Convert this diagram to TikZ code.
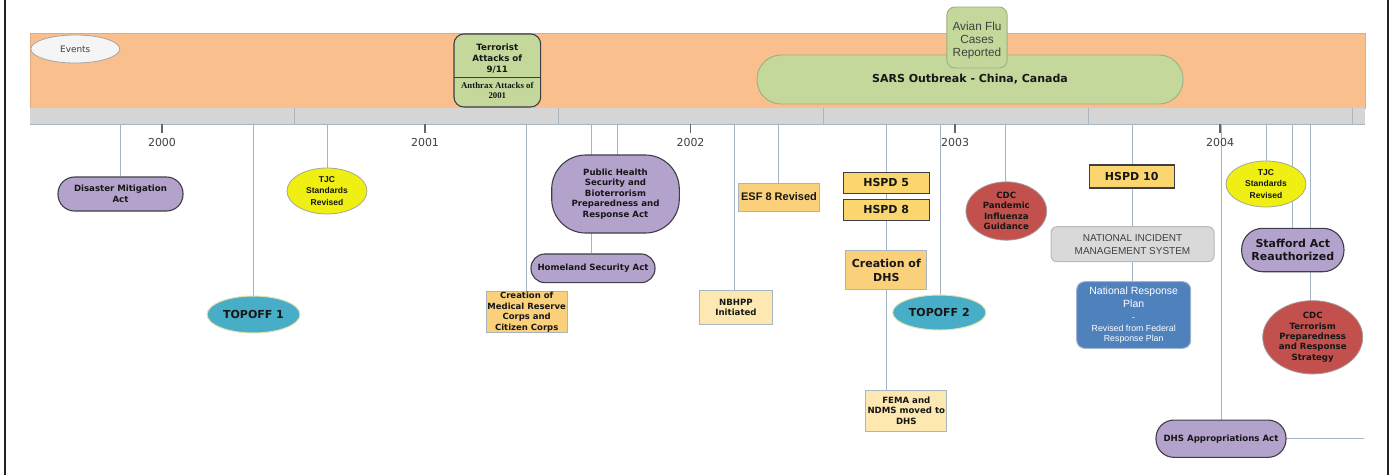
\documentclass[tikz,border=0pt]{standalone}
\usepackage{fontspec}
\setmainfont{DejaVu Sans}
\newfontfamily\arialf{Liberation Sans}
\newfontfamily\timesf{Liberation Serif}
\usetikzlibrary{shapes.geometric,backgrounds}
\newcommand{\myfs}[2]{\fontsize{#1}{#2}\selectfont}
\definecolor{bandc}{HTML}{F9C08E}
\definecolor{bandd}{HTML}{E4A97C}
\definecolor{barc}{HTML}{D5D5D5}
\definecolor{bard}{HTML}{A9B6C0}
\definecolor{connc}{HTML}{A3B5C5}
\definecolor{greenc}{HTML}{C4D89C}
\definecolor{greend}{HTML}{9DAE80}
\definecolor{lavc}{HTML}{B3A3CC}
\definecolor{lavd}{HTML}{3E3E46}
\definecolor{tealc}{HTML}{48ADC7}
\definecolor{teald}{HTML}{E6E2B0}
\definecolor{yelc}{HTML}{EFEF14}
\definecolor{yeld}{HTML}{A8A890}
\definecolor{redc}{HTML}{C2504D}
\definecolor{redd}{HTML}{A89A9A}
\definecolor{orc}{HTML}{FAD07A}
\definecolor{hspdc}{HTML}{FBD56E}
\definecolor{ltc}{HTML}{FDE8B2}
\definecolor{boxd}{HTML}{A8B6C0}
\definecolor{bluec}{HTML}{4F81BD}
\definecolor{blued}{HTML}{9DB3CF}
\definecolor{nimsc}{HTML}{D9D9D9}
\definecolor{nimsd}{HTML}{B8B8B8}
\definecolor{txt}{HTML}{161616}
\definecolor{yeartxt}{HTML}{404040}
\definecolor{framec}{HTML}{222222}
\tikzset{
  conn/.style={draw=connc, line width=0.9pt},
  lav/.style={draw=lavd, fill=lavc, line width=1.1pt, inner sep=0pt, align=center, text=txt, font=\bfseries\myfs{8.6}{10.8}},
  ellnode/.style={ellipse, inner sep=0pt, align=center, text=txt},
  teal/.style={ellnode, fill=tealc, draw=teald, line width=1pt, font=\bfseries\myfs{11}{13}},
  tjc/.style={ellnode, fill=yelc, draw=yeld, line width=0.8pt, font=\arialf\bfseries\myfs{8.5}{11.7}, minimum width=80pt, minimum height=46pt},
  cdc/.style={ellnode, fill=redc, draw=redd, line width=0.8pt, font=\bfseries\myfs{8.6}{10.4}},
  obox/.style={draw=boxd, fill=orc, line width=1pt, inner sep=0pt, align=center, text=txt},
  lbox/.style={draw=boxd, fill=ltc, line width=1pt, inner sep=0pt, align=center, text=txt, font=\bfseries\myfs{8.6}{10.6}},
  hspd/.style={draw=lavd, fill=hspdc, line width=1.1pt, inner sep=0pt, align=center, text=txt, font=\bfseries\myfs{11}{13}, minimum width=85.7pt},
  year/.style={text=yeartxt, font=\myfs{11}{13}},
  tick/.style={draw=yeartxt!80, line width=1.3pt},
  divider/.style={draw=bard, line width=0.9pt}
}
\begin{document}
\begin{tikzpicture}[x=1pt,y=-1pt]
\useasboundingbox (0,0) rectangle (1392,475);
% frame
\draw[framec, line width=2.5pt] (5,0) -- (5,475);
\draw[framec, line width=2.5pt] (1388,0) -- (1388,475);
% band and bar
\node[draw=bandd, fill=bandc, line width=0.8pt, minimum width=1335pt, minimum height=75pt, inner sep=0pt] (band) at (697.5,70.5) {};
\node[fill=barc, minimum width=1335pt, minimum height=16pt, inner sep=0pt] (bar) at (697.5,116) {};
\draw[divider] (bar.south west) -- (bar.south east);
\foreach \dx in {294,558,823,1088,1352} \draw[divider] (\dx,108) -- (\dx,124);
% years
\foreach \yx/\yr in {162/2000,425/2001,690.5/2002,955/2003,1220/2004}{
  \draw[tick] (\yx,124) -- (\yx,133);
  \node[year] (y\yr) at (\yx,142.5) {\yr};
}
% top events
\node[ellnode, fill=gray!8, draw=gray!70, line width=0.8pt, minimum width=89pt, minimum height=28pt, font=\myfs{8.9}{10}, text=yeartxt] (events) at (75.3,49) {Events};
\node[draw=lavd, fill=greenc, line width=1.1pt, rounded corners=10pt, minimum width=86.7pt, minimum height=73pt, inner sep=0pt] (terr) at (497.3,70.5) {};
\coordinate (terrdl) at (454,77);
\coordinate (terrdr) at (540.6,77);
\draw[lavd, line width=1pt] (terrdl) -- (terrdr);
\node[align=center, text=txt, font=\bfseries\myfs{8.7}{10.6}] (terra) at (497.3,58.5) {Terrorist\\Attacks of\\9/11};
\node[align=center, text=txt, font=\timesf\bfseries\myfs{8.8}{10.7}] (terrb) at (497.3,90.5) {Anthrax Attacks of\\2001};
\node[draw=greend, fill=greenc, line width=0.9pt, rounded corners=24pt, minimum width=426pt, minimum height=49pt, inner sep=0pt, text=txt, font=\bfseries\myfs{11}{13}] (sars) at (970,79.5) {SARS Outbreak - China, Canada};
\node[draw=greend, fill=greenc, line width=0.9pt, rounded corners=8pt, minimum width=60.3pt, minimum height=61pt, inner sep=0pt] (avian) at (977,37.5) {};
\node[align=center, text=yeartxt, font=\arialf\myfs{11.8}{13.3}, inner sep=0pt] (aviant) at (977,40.5) {Avian Flu\\Cases\\Reported};
% lower nodes
\node[lav, rounded corners=16.5pt, minimum width=125pt, minimum height=34pt] (dma) at (120.5,194) {Disaster Mitigation\\Act};
\node[teal, minimum width=93pt, minimum height=37pt] (top1) at (253.5,314.5) {TOPOFF 1};
\node[tjc] (tjc1) at (327,191) {TJC\\Standards\\Revised};
\node[obox, minimum width=81pt, minimum height=41.7pt, font=\bfseries\myfs{8.5}{10.5}] (mrc) at (526.7,312) {Creation of\\Medical Reserve\\Corps and\\Citizen Corps};
\node[lav, rounded corners=34pt, minimum width=127.6pt, minimum height=78pt, font=\bfseries\myfs{8.6}{10.4}] (phs) at (615.5,194) {Public Health\\Security and\\Bioterrorism\\Preparedness and\\Response Act};
\node[lav, rounded corners=14pt, minimum width=124pt, minimum height=28.7pt] (hsa) at (593,268.3) {Homeland Security Act};
\node[lbox, minimum width=73.4pt, minimum height=33.6pt] (nbh) at (736,307.5) {NBHPP\\Initiated};
\node[obox, minimum width=80.3pt, minimum height=28pt, font=\arialf\bfseries\myfs{11}{13}] (esf) at (779,197) {ESF 8 Revised};
\node[hspd, minimum height=21pt] (h5) at (886.2,182.8) {HSPD 5};
\node[hspd, minimum height=20.7pt] (h8) at (886.2,209.7) {HSPD 8};
\node[obox, minimum width=80.7pt, minimum height=39.3pt, font=\bfseries\myfs{11}{14}] (dhs) at (886.3,270.3) {Creation of\\DHS};
\node[lbox, minimum width=80.7pt, minimum height=41pt] (fema) at (906.3,410.5) {FEMA and\\NDMS moved to\\DHS};
\node[teal, minimum width=93.3pt, minimum height=35pt] (top2) at (939.3,312.5) {TOPOFF 2};
\node[cdc, minimum width=80.7pt, minimum height=58.3pt] (cdcp) at (1006.3,211) {CDC\\Pandemic\\Influenza\\Guidance};
\node[hspd, minimum width=85.3pt, minimum height=23pt] (h10) at (1131.7,176.5) {HSPD 10};
\node[draw=nimsd, fill=nimsc, line width=1pt, rounded corners=6pt, minimum width=163pt, minimum height=35pt, inner sep=0pt, align=center, text=yeartxt, font=\arialf\myfs{10}{12.7}] (nims) at (1132.5,244.2) {NATIONAL INCIDENT\\MANAGEMENT SYSTEM};
\node[draw=blued, fill=bluec, line width=1pt, rounded corners=8pt, minimum width=114pt, minimum height=66.6pt, inner sep=0pt, align=center, text=white, font=\arialf\myfs{8.8}{10.7}] (nrp) at (1133.7,315) {{\myfs{10.5}{10.7}National Response}\\[2.6pt]{\myfs{10.5}{10.7}Plan}\\[2.3pt]-\\Revised from Federal\\Response Plan};
\node[lav, rounded corners=18pt, minimum width=130pt, minimum height=37.3pt] (dhsa) at (1221,438.7) {DHS Appropriations Act};
\node[tjc] (tjc2) at (1266,184) {TJC\\Standards\\Revised};
\node[lav, rounded corners=21pt, minimum width=102.3pt, minimum height=43.4pt, font=\bfseries\myfs{11}{13.3}] (staf) at (1292.8,250) {Stafford Act\\Reauthorized};
\node[cdc, minimum width=100pt, minimum height=73.3pt] (cdct) at (1312.7,337.3) {CDC\\Terrorism\\Preparedness\\and Response\\Strategy};
% connector start points on the bar
\coordinate (c1) at (120,124);
\coordinate (c2) at (253,124);
\coordinate (c3) at (327,124);
\coordinate (c4) at (526,124);
\coordinate (c5) at (591,124);
\coordinate (c6) at (617,124);
\coordinate (c7) at (734.5,124);
\coordinate (c8) at (778,124);
\coordinate (c9) at (886.5,124);
\coordinate (c10) at (940,124);
\coordinate (c11) at (1005,124);
\coordinate (c12) at (1132,124);
\coordinate (c13) at (1221,124);
\coordinate (c14) at (1266,124);
\coordinate (c15) at (1292,124);
\coordinate (c16) at (1310,124);
\coordinate (dhsend) at (1364,438.7);
\begin{scope}[on background layer]
\draw[conn] (c1) -- (c1 |- dma.north);
\draw[conn] (c2) -- (c2 |- top1.north);
\draw[conn] (c3) -- (c3 |- tjc1.north);
\draw[conn] (c4) -- (c4 |- mrc.north);
\draw[conn] (c5) -- (c5 |- hsa.north);
\draw[conn] (c6) -- (c6 |- phs.center);
\draw[conn] (c7) -- (c7 |- nbh.north);
\draw[conn] (c8) -- (c8 |- esf.north);
\draw[conn] (c9) -- (c9 |- fema.north);
\draw[conn] (c10) -- (c10 |- top2.north);
\draw[conn] (c11) -- (c11 |- cdcp.north);
\draw[conn] (c12) -- (c12 |- nrp.north);
\draw[conn] (c13) -- (c13 |- dhsa.north);
\draw[conn] (c14) -- (c14 |- tjc2.north);
\draw[conn] (c15) -- (c15 |- staf.north);
\draw[conn] (c16) -- (c16 |- cdct.center);
\draw[conn] (dhsa.east) -- (dhsend);
\end{scope}
\end{tikzpicture}
\end{document}
